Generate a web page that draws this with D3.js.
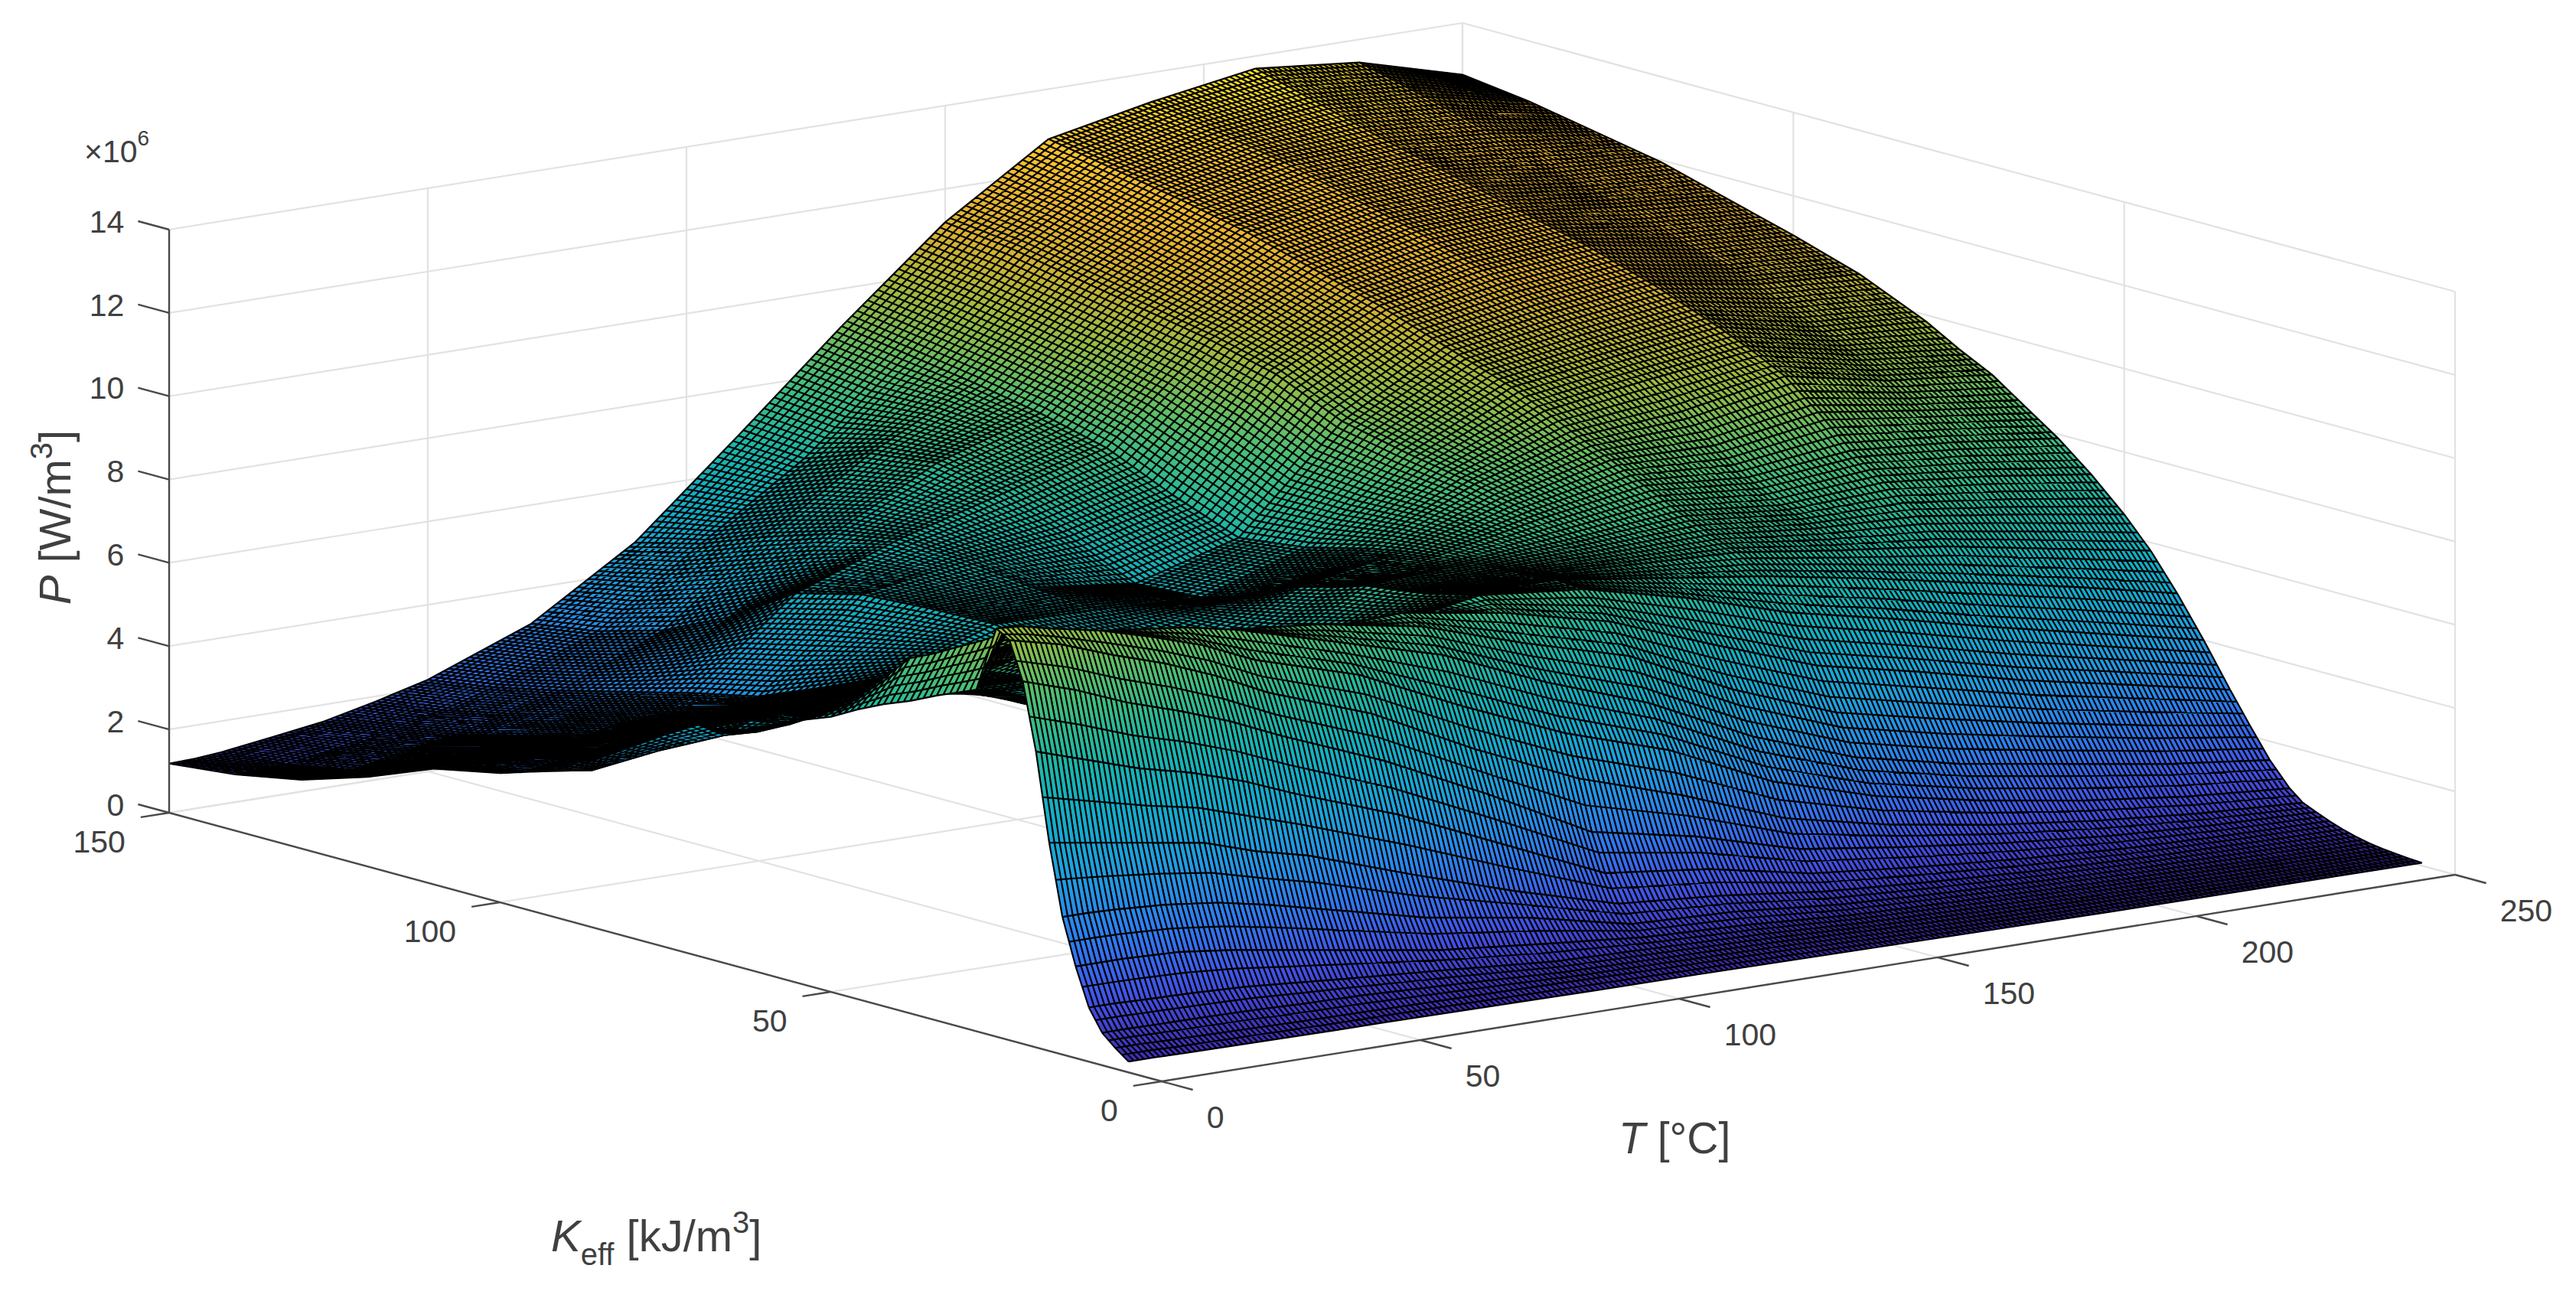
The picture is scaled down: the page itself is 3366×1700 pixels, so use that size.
<!DOCTYPE html>
<html>
<head>
<meta charset="utf-8">
<script src="https://cdn.jsdelivr.net/npm/d3@7"></script>
<style>
  body { margin: 0; background: #fff; }
  text { font-family: "Liberation Sans", Arial, sans-serif; fill: #404040; }
</style>
</head>
<body>
<svg id="surfacechart"></svg>
<script>
// axis ticks
const tTicks = [0, 50, 100, 150, 200, 250];
const kTicks = [0, 50, 100, 150];
const pTicks = [0, 2, 4, 6, 8, 10, 12, 14];

const kGrid = [5, 7, 9, 11, 13, 15, 17, 19, 21, 23, 25, 28, 31, 34, 38, 42, 46, 50, 55, 60, 65, 70, 75, 80, 90, 100, 110, 120, 130, 140, 150];
const tGrid = [0, 5, 10, 20, 30, 40, 50, 70, 90, 110, 130, 150, 170, 190, 210, 230, 250];

// P (x10^6 W/m3) along kGrid, one list per temperature
const P_T0 = [.26, .5, .78, 1.3, 2.2, 3.3, 5.0, 7.1, 8.7, 9.6, 9.8, 8.2, 8.0, 7.8, 7.5, 7.25, 6.95, 6.6, 6.3, 5.95, 5.6, 5.55, 5.1, 4.6, 3.6, 3.1, 2.78, 2.15, 1.65, 1.35, 1.18];
const P_T5 = [.26, .5, .78, 1.3, 2.2, 3.3, 4.9, 6.9, 8.5, 9.45, 9.75, 9.45, 9.15, 8.9, 8.55, 8.25, 7.6, 7.0, 6.4, 5.9, 5.5, 5.2, 4.8, 4.4, 3.5, 3.05, 2.75, 2.2, 1.7, 1.38, 1.2];
const P_T10 = [.25, .48, .77, 1.28, 2.2, 3.28, 4.8, 6.7, 8.3, 9.3, 9.6, 9.3, 8.95, 8.65, 8.2, 7.85, 7.3, 6.85, 6.35, 6.0, 5.6, 5.45, 5.1, 4.7, 3.7, 3.15, 2.8, 2.2, 1.7, 1.4, 1.25];
const P_T20 = [.24, .46, .76, 1.25, 2.15, 3.2, 4.6, 6.3, 7.8, 8.85, 9.35, 9.2, 8.9, 8.6, 8.1, 7.65, 7.3, 7.0, 6.5, 6.05, 5.8, 5.6, 5.25, 4.8, 3.95, 3.35, 2.9, 2.4, 1.95, 1.6, 1.42];
const P_T30 = [.23, .44, .74, 1.2, 2.0, 3.05, 4.4, 6.0, 7.4, 8.45, 9.0, 9.05, 8.8, 8.4, 7.75, 7.3, 7.0, 6.75, 6.4, 6.1, 5.9, 5.6, 5.3, 4.9, 4.25, 3.6, 3.0, 2.55, 2.15, 1.85, 1.6];
const P_T40 = [.22, .42, .7, 1.1, 1.8, 2.8, 4.0, 5.6, 6.95, 7.95, 8.6, 8.9, 8.7, 8.0, 7.3, 6.8, 6.45, 6.2, 6.05, 6.0, 5.8, 5.65, 5.45, 5.1, 4.35, 3.75, 3.3, 2.85, 2.45, 2.1, 1.88];
const P_T50 = [.22, .41, .68, 1.0, 1.6, 2.5, 3.7, 5.1, 6.4, 7.35, 8.05, 8.65, 8.5, 7.9, 7.1, 6.5, 6.0, 5.7, 5.55, 5.5, 5.5, 5.6, 5.55, 5.3, 4.6, 3.95, 3.6, 3.2, 2.8, 2.45, 2.2];
const P_T70 = [.2, .38, .58, .82, 1.2, 1.9, 2.85, 4.2, 5.4, 6.45, 7.3, 7.95, 8.25, 7.9, 7.1, 6.5, 6.05, 5.75, 5.5, 5.4, 5.5, 5.7, 5.95, 6.15, 6.1, 6.0, 5.6, 4.6, 3.85, 3.4, 3.15];
const P_T90 = [.18, .34, .46, .62, .95, 1.5, 2.05, 3.1, 4.2, 5.2, 6.15, 7.25, 7.8, 8.0, 7.4, 7.0, 6.7, 6.4, 6.1, 5.9, 5.8, 5.9, 6.0, 6.1, 6.2, 6.4, 6.5, 6.2, 5.7, 5.1, 4.7];
const P_T110 = [.17, .3, .42, .55, .72, .95, 1.35, 2.0, 2.9, 4.1, 5.1, 6.2, 7.0, 7.6, 7.85, 7.7, 7.55, 7.45, 7.35, 7.1, 6.9, 6.55, 6.25, 6.0, 5.9, 6.6, 7.2, 7.5, 7.3, 6.75, 6.87];
const P_T130 = [.15, .27, .37, .48, .62, .85, 1.15, 1.7, 2.4, 3.3, 4.3, 5.3, 6.3, 7.0, 7.6, 7.65, 7.6, 7.55, 7.5, 7.45, 7.35, 7.2, 7.0, 6.8, 6.6, 7.2, 7.9, 8.3, 8.6, 8.85, 9.1];
const P_T150 = [.13, .2, .28, .36, .46, .62, .85, 1.2, 1.7, 2.35, 3.15, 4.1, 5.1, 6.05, 7.0, 7.3, 7.45, 7.55, 7.7, 7.95, 8.15, 8.35, 8.5, 8.65, 9.0, 9.7, 10.1, 10.4, 10.7, 11.0, 11.2];
const P_T170 = [.11, .16, .22, .29, .38, .5, .68, .95, 1.35, 1.8, 2.4, 3.2, 4.15, 5.15, 6.25, 6.95, 7.35, 7.6, 7.95, 8.35, 8.75, 9.1, 9.5, 9.85, 10.4, 10.95, 11.4, 11.85, 12.2, 12.5, 12.8];
const P_T190 = [.09, .13, .18, .24, .31, .41, .54, .75, 1.05, 1.4, 1.9, 2.65, 3.6, 4.6, 5.7, 6.5, 7.0, 7.35, 7.7, 8.15, 8.7, 9.3, 9.85, 10.2, 10.8, 11.4, 11.9, 12.3, 12.7, 13.0, 13.3];
const P_T210 = [.085, .11, .15, .2, .26, .34, .45, .6, .82, 1.1, 1.5, 2.25, 3.1, 4.0, 5.1, 6.0, 6.7, 7.25, 7.85, 8.4, 9.1, 9.75, 10.15, 10.5, 11.1, 11.6, 12.0, 12.4, 12.8, 13.25, 13.7];
const P_T230 = [.08, .1, .13, .17, .22, .3, .4, .52, .68, .88, 1.2, 1.85, 2.65, 3.5, 4.55, 5.5, 6.25, 6.9, 7.6, 8.2, 8.75, 9.25, 9.65, 10.0, 10.7, 11.2, 11.7, 12.1, 12.6, 13.05, 13.45];
const P_T250 = [.07, .09, .12, .15, .2, .27, .36, .47, .6, .74, 1.0, 1.55, 2.25, 2.98, 4.0, 4.95, 5.8, 6.5, 7.25, 7.9, 8.45, 9.0, 9.4, 9.85, 10.55, 11.05, 11.5, 11.95, 12.25, 12.55, 12.76];
const pGrid = [P_T0, P_T5, P_T10, P_T20, P_T30, P_T40, P_T50, P_T70, P_T90, P_T110, P_T130, P_T150, P_T170, P_T190, P_T210, P_T230, P_T250];

// colormap stops
const colorStops = [0, 1.4, 2.8, 4.2, 5.6, 7, 8.4, 9.8, 11.2, 12.6, 14];
const colorValues = ["#3e26a8", "#4352e8", "#2d7ff0", "#1fa0e0", "#0fb0c8", "#20b8a0", "#50c070", "#a0bc40", "#e0b030", "#fac030", "#f9f020"];

class SurfacePlot {
  origin = { x: 1518, y: 1413 };

  constructor(svg) {
    this.svg = svg;
    this.width = 3366;
    this.height = 1700;
  }

  initialize() {
    this.svg.attr("width", this.width).attr("height", this.height);
    this.defs = this.svg.append("defs");
    this.grid = this.svg.append("g");
    this.surface = this.svg.append("g").style("filter", "blur(0.7px)");
    this.axes = this.svg.append("g");
    this.labels = this.svg.append("g");

    // oblique view: each data axis moves the point along its own screen direction
    this.xT = d3.scaleLinear().domain([0, 250]).range([0, 1690]);
    this.yT = d3.scaleLinear().domain([0, 250]).range([0, -270]);
    this.xK = d3.scaleLinear().domain([0, 150]).range([0, -1297]);
    this.yK = d3.scaleLinear().domain([0, 150]).range([0, -351]);
    this.yP = d3.scaleLinear().domain([0, 14]).range([0, -762]);
    this.color = d3.scaleLinear().domain(colorStops).range(colorValues);
  }

  project(t, k, p) {
    return [
      this.origin.x + this.xT(t) + this.xK(k),
      this.origin.y + this.yT(t) + this.yK(k) + this.yP(p)
    ];
  }

  line3d(sel, a, b) {
    const [x1, y1] = this.project(...a);
    const [x2, y2] = this.project(...b);
    return sel.append("line").attr("x1", x1).attr("y1", y1).attr("x2", x2).attr("y2", y2);
  }

  drawGrid() {
    const tMax = 250, kMax = 150, pMax = 14;
    const segs = [];
    tTicks.forEach((t) => {
      segs.push([[t, 0, 0], [t, kMax, 0]]);
      segs.push([[t, kMax, 0], [t, kMax, pMax]]);
    });
    kTicks.forEach((k) => {
      segs.push([[0, k, 0], [tMax, k, 0]]);
      segs.push([[tMax, k, 0], [tMax, k, pMax]]);
    });
    pTicks.forEach((p) => {
      segs.push([[0, kMax, p], [tMax, kMax, p]]);
      segs.push([[tMax, kMax, p], [tMax, 0, p]]);
    });
    segs.forEach(([a, b]) => {
      this.line3d(this.grid, a, b).attr("stroke", "#e2e2e2").attr("stroke-width", 2.2);
    });
  }

  // one facet of the read table, far ones first so near ones cover them
  drawSurface() {
    const nT = tGrid.length, nK = kGrid.length;
    let id = 0;
    for (let j = nK - 2; j >= 0; j--) {
      for (let i = nT - 2; i >= 0; i--) {
        this.drawFacet(i, j, id++);
      }
    }
  }

  drawFacet(i, j, id) {
    const t0 = tGrid[i], t1 = tGrid[i + 1], k0 = kGrid[j], k1 = kGrid[j + 1];
    const pa = pGrid[i][j], pb = pGrid[i + 1][j], pc = pGrid[i + 1][j + 1], pd = pGrid[i][j + 1];
    const a = this.project(t0, k0, pa), b = this.project(t1, k0, pb);
    const c = this.project(t1, k1, pc), d = this.project(t0, k1, pd);

    const outline = d3.path();
    outline.moveTo(...a); outline.lineTo(...b); outline.lineTo(...c); outline.lineTo(...d); outline.closePath();

    const fill = this.facetPaint(a, b, c, d, pa, pb, pc, pd, id);
    this.surface.append("path").attr("d", outline.toString())
      .attr("fill", fill).attr("stroke", fill).attr("stroke-width", 1);

    // wire texture of the surface, one wire per degree and per kJ/m3
    const wires = d3.path();
    const mix = (u, v) => [u[0] + (v[0] - u[0]), u[1] + (v[1] - u[1])];
    const along = (u, v, f) => [u[0] + (v[0] - u[0]) * f, u[1] + (v[1] - u[1]) * f];
    for (let t = t0; t <= t1; t++) {
      const f = (t - t0) / (t1 - t0);
      wires.moveTo(...along(a, b, f));
      wires.lineTo(...along(d, c, f));
    }
    for (let k = k0; k <= k1; k++) {
      const f = (k - k0) / (k1 - k0);
      wires.moveTo(...along(a, d, f));
      wires.lineTo(...along(b, c, f));
    }
    this.surface.append("path").attr("d", wires.toString())
      .attr("fill", "none").attr("stroke", "#000").attr("stroke-width", 2.2);
  }

  // gradient running along the slope of the facet on screen
  facetPaint(a, b, c, d, pa, pb, pc, pd, id) {
    const mean = (pa + pb + pc + pd) / 4;
    const lo = Math.min(pa, pb, pc, pd), hi = Math.max(pa, pb, pc, pd);
    const v1 = [c[0] - a[0], c[1] - a[1]], v2 = [d[0] - b[0], d[1] - b[1]];
    const det = v1[0] * v2[1] - v1[1] * v2[0];
    if (Math.abs(det) < 60 || hi - lo < 0.02) return this.color(mean);

    const d1 = pc - pa, d2 = pd - pb;
    const gx = (d1 * v2[1] - d2 * v1[1]) / det;
    const gy = (v1[0] * d2 - v2[0] * d1) / det;
    const g2 = gx * gx + gy * gy;
    const mx = (a[0] + b[0] + c[0] + d[0]) / 4, my = (a[1] + b[1] + c[1] + d[1]) / 4;

    const grad = this.defs.append("linearGradient")
      .attr("id", "f" + id)
      .attr("gradientUnits", "userSpaceOnUse")
      .attr("x1", mx + gx * (lo - mean) / g2)
      .attr("y1", my + gy * (lo - mean) / g2)
      .attr("x2", mx + gx * (hi - mean) / g2)
      .attr("y2", my + gy * (hi - mean) / g2);
    [0, 0.5, 1].forEach((s) => {
      grad.append("stop").attr("offset", s).attr("stop-color", this.color(lo + (hi - lo) * s));
    });
    return `url(#f${id})`;
  }

  drawAxes() {
    const axisStyle = (l) => l.attr("stroke", "#4a4a4a").attr("stroke-width", 2.4);
    axisStyle(this.line3d(this.axes, [0, 150, 0], [0, 150, 14]));
    axisStyle(this.line3d(this.axes, [0, 150, 0], [0, 0, 0]));
    axisStyle(this.line3d(this.axes, [0, 0, 0], [250, 0, 0]));

    pTicks.forEach((p) => {
      axisStyle(this.line3d(this.axes, [0, 150, p], [0, 154.7, p]));
      const [x, y] = this.project(0, 154.7, p);
      this.labels.append("text").attr("x", x - 18).attr("y", y).attr("dy", "0.36em")
        .attr("text-anchor", "end").attr("font-size", 41).text(p);
    });
    kTicks.forEach((k) => {
      axisStyle(this.line3d(this.axes, [0, k, 0], [-5.5, k, 0]));
      const [x, y] = this.project(-5.5, k, 0);
      this.labels.append("text").attr("x", x - 20).attr("y", y + 31).attr("dy", "0.36em")
        .attr("text-anchor", "end").attr("font-size", 41).text(k);
    });
    tTicks.forEach((t) => {
      axisStyle(this.line3d(this.axes, [t, 0, 0], [t, -4.7, 0]));
      const [x, y] = this.project(t, -4.7, 0);
      this.labels.append("text").attr("x", x + 18).attr("y", y + 35).attr("dy", "0.36em")
        .attr("text-anchor", "start").attr("font-size", 41).text(t);
    });
  }

  drawLabels() {
    const exp = this.labels.append("text").attr("x", 110).attr("y", 212).attr("font-size", 41);
    exp.append("tspan").text("×10");
    exp.append("tspan").attr("font-size", 28).attr("dy", -22).text("6");

    const tLabel = this.labels.append("text").attr("x", 2115).attr("y", 1507).attr("font-size", 57);
    tLabel.append("tspan").attr("font-style", "italic").text("T");
    tLabel.append("tspan").text(" [°C]");

    const kLabel = this.labels.append("text").attr("x", 720).attr("y", 1635).attr("font-size", 58);
    kLabel.append("tspan").attr("font-style", "italic").text("K");
    kLabel.append("tspan").attr("font-size", 40).attr("dy", 18).text("eff");
    kLabel.append("tspan").attr("dy", -18).text(" [kJ/m");
    kLabel.append("tspan").attr("font-size", 40).attr("dy", -24).text("3");
    kLabel.append("tspan").attr("dy", 24).text("]");

    const pLabel = this.labels.append("text")
      .attr("transform", "translate(92, 676) rotate(-90)")
      .attr("text-anchor", "middle").attr("font-size", 58);
    pLabel.append("tspan").attr("font-style", "italic").text("P");
    pLabel.append("tspan").text(" [W/m");
    pLabel.append("tspan").attr("font-size", 40).attr("dy", -24).text("3");
    pLabel.append("tspan").attr("dy", 24).text("]");
  }

  update() {
    this.drawGrid();
    this.drawSurface();
    this.drawAxes();
    this.drawLabels();
  }
}

const chart = new SurfacePlot(d3.select("#surfacechart"));
chart.initialize();
chart.update();
</script>
</body>
</html>
